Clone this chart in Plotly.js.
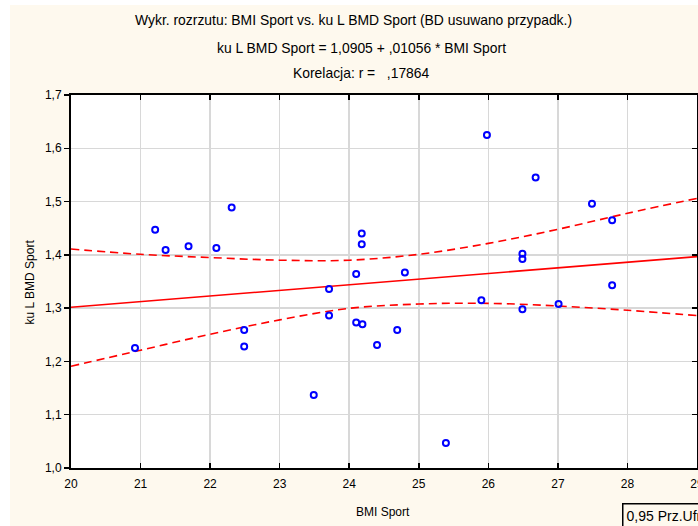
<!DOCTYPE html>
<html>
<head>
<meta charset="utf-8">
<script src="https://cdn.plot.ly/plotly-3.0.1.min.js"></script>
<style>
html,body{margin:0;padding:0;background:#ffffff;}
#chart{position:absolute;left:10px;top:5px;width:688px;height:521px;}
</style>
</head>
<body>
<div id="chart"></div>
<script>
// Data
const bmiSport = [20.92, 21.21, 21.36, 21.69, 22.09, 22.31, 22.49, 22.49, 23.49, 23.71,
                  23.71, 24.10, 24.10, 24.19, 24.18, 24.18, 24.40, 24.69, 24.80, 25.39,
                  25.90, 25.98, 26.49, 26.49, 26.49, 26.68, 27.01, 27.49, 27.78, 27.78];
const bmdSport = [1.225, 1.447, 1.409, 1.416, 1.413, 1.489, 1.259, 1.228, 1.137, 1.336,
                  1.286, 1.364, 1.273, 1.270, 1.440, 1.420, 1.231, 1.259, 1.367, 1.047,
                  1.315, 1.625, 1.402, 1.392, 1.298, 1.545, 1.308, 1.496, 1.465, 1.343];

// Regression line (ends)
const fitX = [20, 29];
const fitY = [1.3017, 1.3967];

// 95% confidence band
const bandX = [20, 21, 22, 23, 24, 25, 26, 27, 28, 29];
const bandUpper = [1.411, 1.401, 1.395, 1.390, 1.390, 1.401, 1.4215, 1.448, 1.478, 1.506];
const bandLower = [1.191, 1.221, 1.251, 1.278, 1.2996, 1.3077, 1.309, 1.304, 1.296, 1.286];

const xTickVals = [20, 21, 22, 23, 24, 25, 26, 27, 28, 29];
const xTickText = ['20', '21', '22', '23', '24', '25', '26', '27', '28', '29'];
const yTickVals = [1.0, 1.1, 1.2, 1.3, 1.4, 1.5, 1.6, 1.7];
const yTickText = ['1,0', '1,1', '1,2', '1,3', '1,4', '1,5', '1,6', '1,7'];

const titleLines = [
  'Wykr. rozrzutu: BMI Sport vs. ku L BMD Sport (BD usuwano przypadk.)',
  'ku L BMD Sport = 1,0905 + ,01056 * BMI Sport',
  'Korelacja: r =\u00a0\u00a0\u00a0,17864'
];
const xTitle = 'BMI Sport';
const yTitle = 'ku L BMD Sport';
const legendText = '0,95 Prz.Ufn.';

const cream = '#fef9ee';
const FONT = 'Arial, "Liberation Sans", sans-serif';

const traces = [
  {x: bandX, y: bandUpper, type: 'scatter', mode: 'lines',
   line: {color: '#ff0000', width: 1.6, dash: '8px,5px', shape: 'spline'}, hoverinfo: 'skip'},
  {x: bandX, y: bandLower, type: 'scatter', mode: 'lines',
   line: {color: '#ff0000', width: 1.6, dash: '8px,5px', shape: 'spline'}, hoverinfo: 'skip'},
  {x: fitX, y: fitY, type: 'scatter', mode: 'lines',
   line: {color: '#ff0000', width: 1.6}, hoverinfo: 'skip'},
  {x: bmiSport, y: bmdSport, type: 'scatter', mode: 'markers',
   marker: {symbol: 'circle-open', size: 6, color: '#0000ff', line: {width: 2, color: '#0000ff'}}},
  {x: [null], y: [null], yaxis: 'y2', type: 'scatter', mode: 'markers', hoverinfo: 'skip'}
];

const titleY = [1.2011, 1.126, 1.059];
const titleX = [0.4513, 0.4633, 0.4633];
const annotations = titleLines.map((t, i) => ({
  text: t, xref: 'paper', yref: 'paper', x: titleX[i], y: titleY[i],
  xanchor: 'center', yanchor: 'middle', showarrow: false,
  font: {family: FONT, size: 13.9, color: '#000'}
}));
annotations.push({text: xTitle, xref: 'paper', yref: 'paper', x: 0.4984, y: -0.118,
  xanchor: 'center', yanchor: 'middle', showarrow: false, font: {family: FONT, size: 12, color: '#000'}});
annotations.push({text: yTitle, xref: 'paper', yref: 'paper', x: -0.0655, y: 0.5,
  xanchor: 'center', yanchor: 'middle', textangle: -90, showarrow: false, font: {family: FONT, size: 12, color: '#000'}});
annotations.push({text: legendText, xref: 'paper', yref: 'paper', x: 0.880, y: -0.0938,
  xanchor: 'left', yanchor: 'top', showarrow: false, bordercolor: '#000', borderwidth: 1.5, borderpad: 3,
  bgcolor: cream, font: {family: FONT, size: 14, color: '#000'}});

const layout = {
  width: 688, height: 521,
  margin: {l: 61, r: 1, t: 90, b: 58},
  paper_bgcolor: cream, plot_bgcolor: '#ffffff',
  showlegend: false,
  font: {family: FONT, size: 12, color: '#000'},
  xaxis: {range: [20, 29], tickvals: xTickVals, ticktext: xTickText,
    ticks: 'inside', ticklen: 5, tickwidth: 1.5, tickcolor: '#000',
    ticklabeloverflow: 'allow', ticklabelstandoff: 4,
    showline: true, linecolor: '#000', linewidth: 2, mirror: 'ticks',
    showgrid: true, gridcolor: '#d8d8d8', gridwidth: 1.5, zeroline: false,
    tickfont: {family: FONT, size: 12, color: '#000'}, fixedrange: true},
  yaxis: {range: [1.0, 1.7], tickvals: yTickVals, ticktext: yTickText,
    ticks: 'outside', ticklen: 5, tickwidth: 1.5, tickcolor: '#000',
    showline: true, linecolor: '#000', linewidth: 2, mirror: true,
    showgrid: true, gridcolor: '#d8d8d8', gridwidth: 1.5, zeroline: false,
    tickfont: {family: FONT, size: 12, color: '#000'}, fixedrange: true},
  yaxis2: {range: [1.0, 1.7], overlaying: 'y', side: 'right', anchor: 'x',
    tickvals: yTickVals, ticks: 'inside', ticklen: 5, tickwidth: 1.5, tickcolor: '#000',
    showticklabels: false, showgrid: false, showline: false, zeroline: false, fixedrange: true},
  annotations: annotations
};

Plotly.newPlot('chart', traces, layout, {staticPlot: true, displayModeBar: false});
</script>
</body>
</html>
